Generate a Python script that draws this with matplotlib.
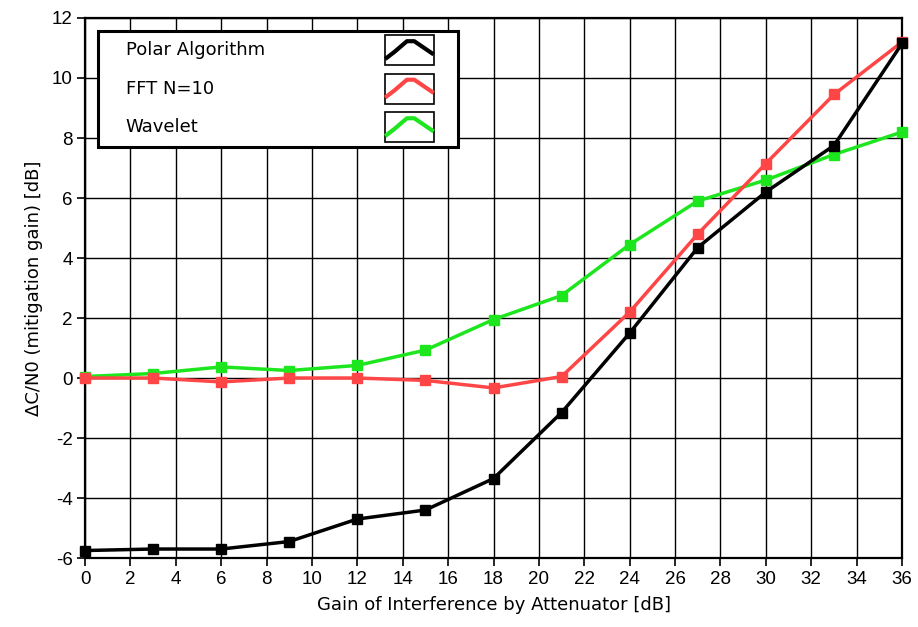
import matplotlib
matplotlib.use("Agg")
import matplotlib.pyplot as plt
from matplotlib.patches import Rectangle
from matplotlib.lines import Line2D

plt.rcParams['font.family'] = ['Liberation Sans', 'DejaVu Sans']
plt.rcParams['axes.unicode_minus'] = False

# Attenuator gain steps [dB]
gain = [0, 3, 6, 9, 12, 15, 18, 21, 24, 27, 30, 33, 36]

# Mitigation gain per algorithm [dB]
polar = [-5.75, -5.7, -5.7, -5.45, -4.7, -4.4, -3.35, -1.15, 1.5, 4.35, 6.2, 7.75, 11.15]
fft_n10 = [0.0, 0.0, -0.13, 0.0, 0.0, -0.08, -0.33, 0.05, 2.2, 4.8, 7.15, 9.45, 11.2]
wavelet = [0.05, 0.15, 0.37, 0.25, 0.42, 0.93, 1.95, 2.75, 4.45, 5.9, 6.6, 7.45, 8.2]

series_names = ["Polar Algorithm", "FFT N=10", "Wavelet"]
series_colors = ["#000000", "#ff4646", "#1ee61e"]

xticks = list(range(0, 37, 2))
yticks = list(range(-6, 13, 2))

label_font = ['DejaVu Sans']

fig = plt.figure(figsize=(9.18, 6.27), dpi=100)
ax = fig.add_axes([0.0926, 0.110, 0.890, 0.8613])

ax.set_xlim(0, 36)
ax.set_ylim(-6, 12)
ax.set_xticks(xticks)
ax.set_yticks(yticks)
ax.grid(True, color="#000000", linewidth=1.0)
ax.set_axisbelow(True)
for s in ax.spines.values():
    s.set_linewidth(1.6)
    s.set_color("#000000")
ax.tick_params(direction="out", length=6, width=1.2, labelsize=13.5, colors="#000000", pad=3)

# draw order: wavelet underneath, polar on top
for ys, col in reversed(list(zip([polar, fft_n10, wavelet], series_colors))):
    ax.plot(gain, ys, color=col, linewidth=2.5, marker="s", markersize=7.5,
            markerfacecolor=col, markeredgecolor=col, clip_on=False, zorder=3)

ax.set_xlabel("Gain of Interference by Attenuator [dB]", fontsize=13, family=label_font,
              labelpad=6)
ax.set_ylabel("\u0394C/N0 (mitigation gain) [dB]", fontsize=13, family=label_font,
              labelpad=6)

# Legend panel with shape icons
lx0, ly0, lx1, ly1 = 0.0165, 0.762, 0.456, 0.976
ax.add_patch(Rectangle((lx0, ly0), lx1 - lx0, ly1 - ly0, transform=ax.transAxes,
                       facecolor="white", edgecolor="black", linewidth=2.2, zorder=5))
row_h = (ly1 - ly0) / 3
ix0, ix1 = 0.367, 0.427
for i, (name, col) in enumerate(zip(series_names, series_colors)):
    yc = ly1 - (i + 0.5) * row_h
    ax.text(0.05, yc, name, transform=ax.transAxes, fontsize=13, family=label_font,
            va="center", ha="left", zorder=6)
    bh = row_h * 0.78
    ax.add_patch(Rectangle((ix0, yc - bh / 2), ix1 - ix0, bh, transform=ax.transAxes,
                           facecolor="white", edgecolor="black", linewidth=1.2, zorder=6))
    w = ix1 - ix0
    px = [ix0 + 0.04 * w, ix0 + 0.2 * w, ix0 + 0.45 * w, ix0 + 0.6 * w, ix0 + 0.96 * w]
    py = [yc - 0.25 * bh, yc - 0.05 * bh, yc + 0.3 * bh, yc + 0.3 * bh, yc - 0.1 * bh]
    ax.add_line(Line2D(px, py, transform=ax.transAxes, color=col, linewidth=3.0,
                       zorder=7))

fig.savefig("out.png", dpi=100, facecolor="white")
